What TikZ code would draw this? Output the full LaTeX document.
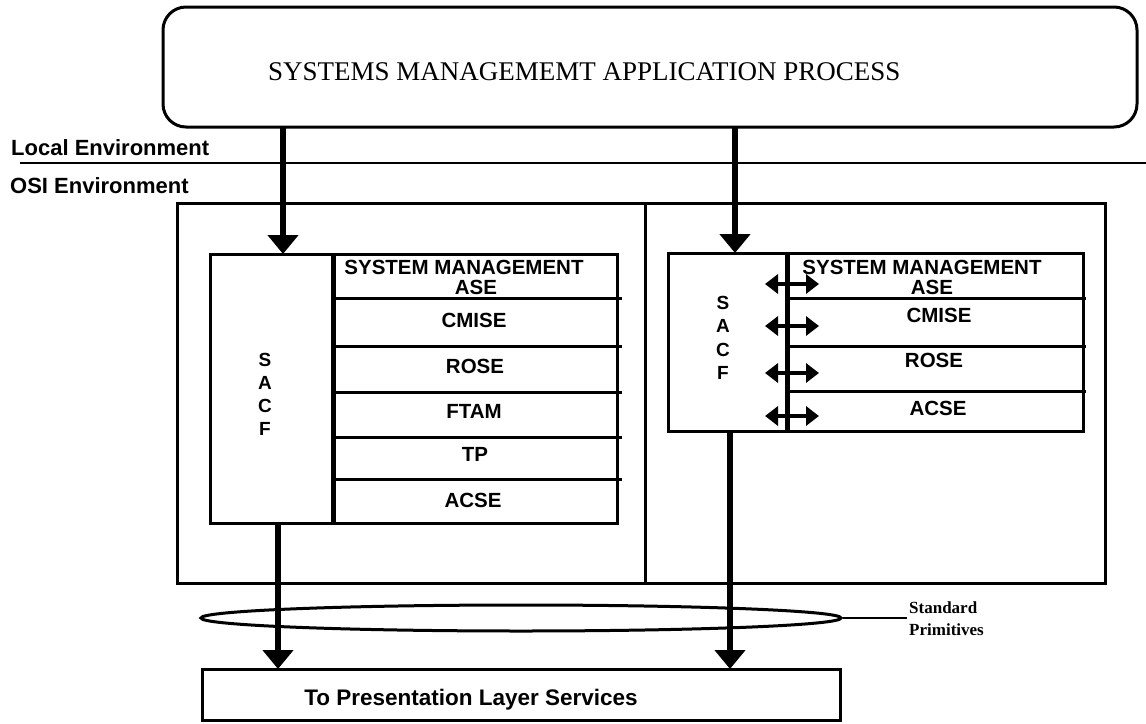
\documentclass[tikz,border=0pt]{standalone}
\usepackage{fontspec}
\setmainfont{Liberation Serif}
\setsansfont{Liberation Sans}
\usetikzlibrary{arrows.meta,shapes.geometric,calc}
\begin{document}
\begin{tikzpicture}[x=1pt,y=-1pt,
  box/.style={draw,line width=3pt,rectangle,inner sep=0pt,outer sep=0pt},
  bigarrow/.style={-{Triangle[length=19pt,width=30pt]},line width=6.5pt},
  dblarrow/.style={{Triangle[length=13pt,width=19pt]}-{Triangle[length=13pt,width=19pt]},line width=3.5pt},
  envtxt/.style={font=\sffamily\bfseries\fontsize{22}{22}\selectfont,inner sep=0pt,anchor=base west},
  rowtxt/.style={font=\sffamily\bfseries\fontsize{20.5}{20.5}\selectfont,inner sep=0pt},
  sacftxt/.style={font=\sffamily\bfseries\fontsize{19}{23}\selectfont,align=center,inner sep=0pt},
  sepline/.style={line width=3pt},
  divline/.style={line width=5pt},
  primtxt/.style={font=\bfseries\fontsize{17}{17}\selectfont,inner sep=0pt,anchor=base west},
  ]
\useasboundingbox (0,0) rectangle (1146,723);

% top application process
\node[box,rounded corners=23pt,minimum width=974pt,minimum height=120pt] (sm) at (650,67) {};
\node[font=\fontsize{27}{27}\selectfont,inner sep=0pt,anchor=base west] (smt) at (268,80) {SYSTEMS MANAGEMEMT APPLICATION PROCESS};

% environment boundary
\coordinate (envL) at (20,163);
\coordinate (envR) at (1146,163);
\draw[line width=2.5pt] (envL) -- (envR);
\node[envtxt] (local) at (11,155) {Local Environment};
\node[envtxt] (osienv) at (10,193) {OSI Environment};

% OSI box
\node[box,minimum width=928pt,minimum height=380pt] (osi) at (641,393) {};
\coordinate (xdiv) at (645,0);
\draw[sepline] (osi.north -| xdiv) -- (osi.south -| xdiv);

% left block
\node[box,minimum width=123pt,minimum height=269pt] (sacfL) at (271.5,388.5) {};
\node[box,minimum width=284pt,minimum height=269pt] (rowsL) at (475,388.5) {};
\draw[divline] (sacfL.north east) -- (sacfL.south east);
\foreach \yy in {298,346,392,437,479}
  \draw[sepline] (rowsL.west |- 0,\yy) -- ++(289,0);
\node[sacftxt] (lsacf) at (265,394) {S\\A\\C\\F};
\node[rowtxt] (lsm) at (464,267) {SYSTEM MANAGEMENT};
\node[rowtxt] (lase) at (476,287) {ASE};
\node[rowtxt] (lcmise) at (474,320) {CMISE};
\node[rowtxt] (lrose) at (475,366) {ROSE};
\node[rowtxt] (lftam) at (474,411) {FTAM};
\node[rowtxt] (ltp) at (475,454) {TP};
\node[rowtxt] (lacse) at (473,500) {ACSE};

% right block
\node[box,minimum width=119pt,minimum height=178pt] (sacfR) at (727.5,342) {};
\node[box,minimum width=296pt,minimum height=178pt] (rowsR) at (935,342) {};
\draw[divline] (sacfR.north east) -- (sacfR.south east);
\foreach \yy in {298,346,391}
  \draw[sepline] (rowsR.west |- 0,\yy) -- ++(299,0);
\node[sacftxt,font=\sffamily\bfseries\fontsize{19}{23.5}\selectfont] (rsacf) at (723,338) {S\\A\\C\\F};
\node[rowtxt] (rsm) at (922,267) {SYSTEM MANAGEMENT};
\node[rowtxt] (rase) at (932,287) {ASE};
\node[rowtxt] (rcmise) at (939,315) {CMISE};
\node[rowtxt] (rrose) at (934,360) {ROSE};
\node[rowtxt] (racse) at (938,408) {ACSE};
\foreach \yy in {284,326,373,416}
  \draw[dblarrow] ($(sacfR.east |- 0,\yy)+(-22,0)$) -- ($(sacfR.east |- 0,\yy)+(32,0)$);

% top arrows
\coordinate (xL) at (283,0);
\coordinate (xR) at (735,0);
\draw[bigarrow] (sm.south -| xL) -- (sacfL.north -| xL);
\draw[bigarrow] (sm.south -| xR) -- (sacfR.north -| xR);

% presentation layer
\node[box,minimum width=638pt,minimum height=51pt] (pres) at (521,694.5) {};
\node[font=\sffamily\bfseries\fontsize{22.5}{22.5}\selectfont,inner sep=0pt,anchor=base] (prest) at (471,705) {To Presentation Layer Services};

% standard primitives ellipse
\node[draw,ellipse,line width=3pt,minimum width=640pt,minimum height=26pt,inner sep=0pt] (prim) at (521,618) {};
\coordinate (primEnd) at (907,618);
\draw[line width=2.5pt] (prim.east) -- (primEnd);
\node[primtxt] (std) at (909,613) {Standard};
\node[primtxt] (primt) at (909,635) {Primitives};

% bottom arrows
\coordinate (xLb) at (278,0);
\coordinate (xRb) at (730,0);
\draw[bigarrow] (sacfL.south -| xLb) -- (pres.north -| xLb);
\draw[bigarrow] (sacfR.south -| xRb) -- (pres.north -| xRb);
\end{tikzpicture}
\end{document}
